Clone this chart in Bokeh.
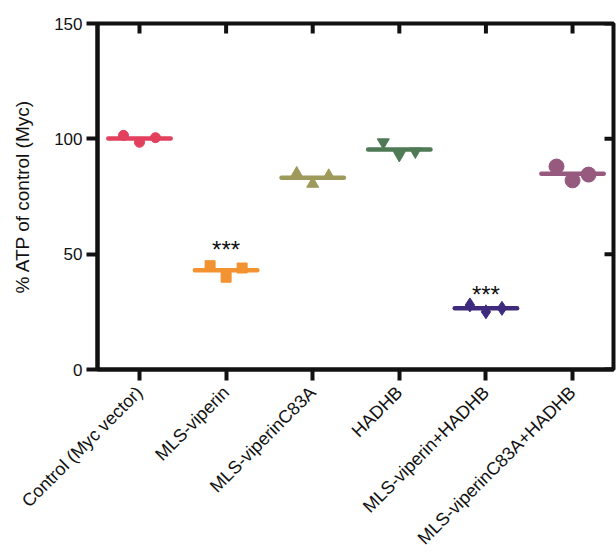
import numpy as np
from bokeh.plotting import figure
from bokeh.models import Range1d, FixedTicker, ColumnDataSource
from bokeh.embed import file_html
from bokeh.resources import INLINE
from bokeh.core.properties import value

# ---- data ----
categories = ["Control (Myc vector)", "MLS-viperin", "MLS-viperinC83A",
              "HADHB", "MLS-viperin+HADHB", "MLS-viperinC83A+HADHB"]
control = [101.5, 98.5, 100.5]
mls_viperin = [45.0, 40.0, 44.0]
mls_viperin_c83a = [85.0, 80.5, 84.0]
hadhb = [98.5, 93.0, 94.5]
mls_viperin_hadhb = [28.0, 25.0, 26.5]
mls_viperin_c83a_hadhb = [88.0, 82.0, 84.5]
series = [control, mls_viperin, mls_viperin_c83a, hadhb,
          mls_viperin_hadhb, mls_viperin_c83a_hadhb]
markers = ["circle", "square", "triangle", "inverted_triangle", "diamond", "circle"]
marker_sizes = [10, 10, 12, 12, 14, 15]
colors = ["#E2405C", "#F39230", "#9E9A5B", "#4F7A56", "#3E2B7E", "#955A7E"]
jitter = [-0.185, 0.0, 0.185]
y_ticks = [0, 50, 100, 150]
sig_groups = ["MLS-viperin", "MLS-viperin+HADHB"]
sig_labels = ["***", "***"]
sig_y = [52.2, 32.7]

FONT = "Liberation Sans"
AX = "#111111"

idx = list(range(len(categories)))
means = [float(np.mean(s)) for s in series]
half = 0.36

x_rng = Range1d(-0.485, 5.473)
y_rng = Range1d(0, 150)

p = figure(width=616, height=558, x_range=x_rng, y_range=y_rng,
           output_backend="svg", toolbar_location=None,
           min_border_left=97, min_border_right=3,
           min_border_top=23, min_border_bottom=189)
p.xgrid.visible = False
p.ygrid.visible = False
p.outline_line_color = AX
p.outline_line_width = 4
p.background_fill_color = "white"
p.border_fill_color = "white"


def style(ax):
    ax.axis_line_color = AX
    ax.axis_line_width = 4
    ax.major_tick_line_color = AX
    ax.major_tick_line_width = 4
    ax.minor_tick_line_color = None
    ax.major_label_text_font = FONT
    ax.major_label_text_color = "#111111"


# bottom axis
xa = p.xaxis[0]
style(xa)
xa.ticker = FixedTicker(ticks=idx)
xa.major_label_overrides = {i: c for i, c in zip(idx, categories)}
xa.major_label_orientation = np.pi / 4
xa.major_label_text_font_size = "18px"
xa.major_tick_in = 0
xa.major_tick_out = 11
xa.major_label_standoff = 9

# left axis
ya = p.yaxis[0]
style(ya)
ya.ticker = FixedTicker(ticks=y_ticks)
ya.major_label_text_font_size = "17px"
ya.major_tick_in = 0
ya.major_tick_out = 11
ya.major_label_standoff = 4
ya.axis_label = "% ATP of control (Myc)"
ya.axis_label_text_font = FONT
ya.axis_label_text_font_size = "19px"
ya.axis_label_text_font_style = "normal"
ya.axis_label_text_color = "#111111"
ya.axis_label_standoff = 18

# inward ticks on top and right frame edges
p.ray(x=idx, y=[y_rng.end] * len(idx), length=10, length_units="screen",
      angle=-np.pi / 2, line_color=AX, line_width=4)
p.ray(x=[x_rng.end] * len(y_ticks), y=y_ticks, length=9, length_units="screen",
      angle=np.pi, line_color=AX, line_width=4)

# mean lines
mean_src = ColumnDataSource(dict(
    x0=[i - half for i in idx], x1=[i + half for i in idx],
    y=means, color=colors))
p.segment(x0="x0", x1="x1", y0="y", y1="y", source=mean_src,
          line_color="color", line_width=4.5, line_cap="round")

# points
for i, vals in enumerate(series):
    src = ColumnDataSource(dict(x=[i + j for j in jitter], y=vals))
    p.scatter(x="x", y="y", source=src, marker=markers[i],
              size=marker_sizes[i], fill_color=colors[i],
              line_color=colors[i], line_width=1)

# significance stars
sig_src = ColumnDataSource(dict(
    x=[categories.index(g) for g in sig_groups], y=sig_y, t=sig_labels))
p.text(x="x", y="y", text="t", source=sig_src,
       text_font=value(FONT), text_font_size="24px", text_color="#111111",
       text_align="center", text_baseline="alphabetic")

open("out.html", "w").write(file_html(p, INLINE))
